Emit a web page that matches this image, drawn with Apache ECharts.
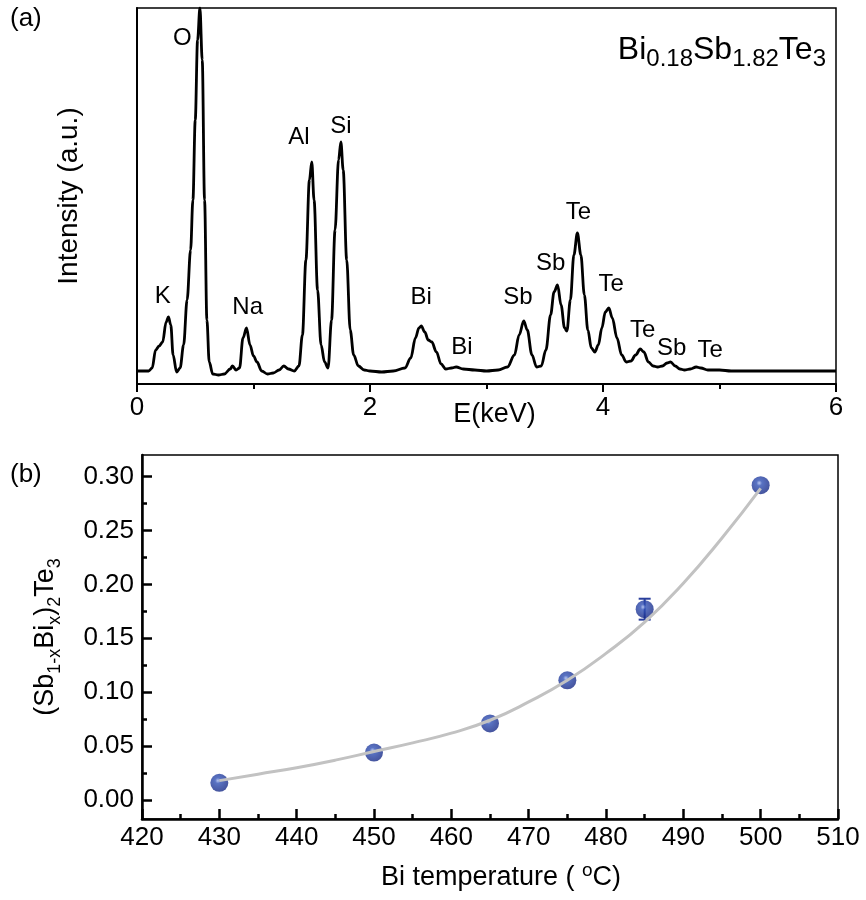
<!DOCTYPE html>
<html><head><meta charset="utf-8">
<script src="https://cdn.jsdelivr.net/npm/echarts@6/dist/echarts.min.js"></script>
<style>html,body{margin:0;padding:0;background:#fff}#c{width:866px;height:900px}</style>
</head><body><div id="c"></div>
<script>
// ---------- Panel (a): EDS spectrum ----------
const energyKeV = [0.00,0.05,0.10,0.13,0.16,0.19,0.22,0.25,0.27,0.29,0.31,0.34,0.37,0.40,0.43,0.46,0.48,0.50,0.52,0.54,0.56,0.58,0.60,0.62,0.65,0.70,0.75,0.80,0.82,0.85,0.88,0.91,0.94,0.97,1.00,1.03,1.07,1.12,1.17,1.22,1.26,1.30,1.35,1.39,1.42,1.45,1.48,1.50,1.52,1.55,1.58,1.61,1.64,1.67,1.70,1.73,1.75,1.77,1.80,1.83,1.86,1.90,1.95,2.00,2.10,2.20,2.30,2.35,2.39,2.42,2.44,2.47,2.50,2.53,2.57,2.61,2.65,2.70,2.74,2.80,2.90,3.00,3.10,3.18,3.24,3.28,3.32,3.35,3.39,3.43,3.47,3.51,3.55,3.58,3.61,3.64,3.67,3.69,3.72,3.75,3.78,3.81,3.84,3.87,3.90,3.93,3.96,3.99,4.02,4.05,4.08,4.12,4.16,4.20,4.24,4.28,4.32,4.35,4.39,4.43,4.47,4.51,4.55,4.58,4.62,4.66,4.70,4.75,4.80,4.84,4.90,5.00,5.10,5.50,6.00];
const intensityAU = [13,13,13,16,34,38,42,62,67,59,29,12,16,39,84,134,184,264,344,376,324,184,64,22,10,9,10,15,18,14,16,46,56,39,28,22,13,10,11,14,18,15,13,18,49,124,204,222,184,94,39,22,16,64,154,224,242,214,124,54,29,18,14,13,12,13,16,26,46,56,58,52,44,42,32,20,15,16,17,15,14,13,14,17,29,49,63,54,29,17,18,34,69,92,99,79,56,53,84,129,151,129,89,54,36,32,39,56,72,76,66,46,29,22,23,29,35,32,22,18,17,18,21,22,18,15,14,15,17,16,14,14,13,13,13];
const peakNames = ['O','K','Na','Al','Si','Bi','Bi','Sb','Sb','Te','Te','Te','Sb','Te'];
const peakLabelE = [0.39,0.22,0.95,1.39,1.75,2.44,2.79,3.27,3.55,3.79,4.07,4.34,4.59,4.92];
const peakLabelI = [346,88,77,247,258,87,37,87,121,172,100,54,36,34];
const xTicksA = [0,2,4,6];

// ---------- Panel (b): composition vs Bi temperature ----------
const biTemp = [430,450,465,475,485,500];
const xBi = [0.016,0.044,0.071,0.111,0.177,0.292];
const xBiErr = [0,0,0,0,0.0097,0];
const fitTemp = [430,435,440,445,450,455,460,465,470,475,480,485,490,495,500];
const fitX = [0.018,0.024,0.030,0.037,0.045,0.053,0.062,0.074,0.091,0.111,0.136,0.165,0.201,0.243,0.289];
const yTicksB = [0,0.05,0.10,0.15,0.20,0.25,0.30];
const yMinorTicksB = [0.025,0.075,0.125,0.175,0.225,0.275];

const FONT = 'Liberation Sans, Arial, sans-serif';
const chart = echarts.init(document.getElementById('c'), null, {renderer:'canvas'});

const spectrum = energyKeV.map((e,i)=>[e,intensityAU[i]]);
const peakPts = peakNames.map((n,i)=>[peakLabelE[i],peakLabelI[i],i]);
const pts = biTemp.map((t,i)=>[t,xBi[i]]);
const errs = biTemp.map((t,i)=>[t,xBi[i]-xBiErr[i],xBi[i]+xBiErr[i]]).filter((d,i)=>xBiErr[i]>0);
const fit = fitTemp.map((t,i)=>[t,fitX[i]]);

const sub = {fontSize:18, fontFamily:FONT, color:'#000', lineHeight:16, verticalAlign:'bottom'};

chart.setOption({
  animation:false,
  backgroundColor:'#fff',
  grid:[
    {left:137, top:8, width:699, height:376, show:true, borderColor:'#000', borderWidth:1.5, backgroundColor:'transparent'},
    {left:142, top:455, width:696, height:364, show:true, borderColor:'#000', borderWidth:1.5, backgroundColor:'transparent'}
  ],
  xAxis:[
    {gridIndex:0, type:'value', min:0, max:6, interval:2,
     axisLine:{onZero:false, lineStyle:{color:'#000', width:2}},
     axisTick:{show:true, inside:false, length:8, lineStyle:{color:'#000', width:2}},
     minorTick:{show:true, splitNumber:2, length:5, lineStyle:{color:'#000', width:2}},
     splitLine:{show:false},
     axisLabel:{customValues:xTicksA, fontSize:26, fontFamily:FONT, color:'#000', margin:11},
     name:'E(keV)', nameLocation:'middle', nameGap:17, nameMoveOverlap:false,
     nameTextStyle:{fontSize:27, fontFamily:FONT, color:'#000', verticalAlign:'top', padding:[0,0,0,16]}},
    {gridIndex:1, type:'value', min:420, max:510, interval:10,
     axisLine:{onZero:false, lineStyle:{color:'#000', width:2.5}},
     axisTick:{show:true, inside:true, length:10, lineStyle:{color:'#000', width:2.5}},
     minorTick:{show:true, splitNumber:2, length:5, lineStyle:{color:'#000', width:2.5}},
     splitLine:{show:false},
     axisLabel:{fontSize:26, fontFamily:FONT, color:'#000', margin:6},
     name:'Bi temperature ( {sup|o}C)', nameLocation:'middle', nameGap:42, nameMoveOverlap:false,
     nameTextStyle:{fontSize:27, fontFamily:FONT, color:'#000', verticalAlign:'top', lineHeight:34, padding:[0,0,0,22],
       rich:{sup:{fontSize:19, fontFamily:FONT, color:'#000', lineHeight:20, verticalAlign:'top'}}}}
  ],
  yAxis:[
    {gridIndex:0, type:'value', min:0, max:376,
     axisLine:{show:true, onZero:false, lineStyle:{color:'#000', width:2}},
     axisTick:{show:false}, axisLabel:{show:false}, splitLine:{show:false},
     name:'Intensity (a.u.)', nameLocation:'middle', nameGap:54, nameRotate:90,
     nameTextStyle:{fontSize:28, fontFamily:FONT, color:'#000'}},
    {gridIndex:1, type:'value', position:'left', min:-0.0176, max:0.32,
     axisLine:{show:true, onZero:false, lineStyle:{color:'#000', width:2.5}},
     axisTick:{show:true, inside:true, length:10, customValues:yTicksB, lineStyle:{color:'#000', width:2.5}},
     axisLabel:{customValues:yTicksB, fontSize:26, fontFamily:FONT, color:'#000', margin:8,
       formatter:v=>v.toFixed(2)},
     splitLine:{show:false},
     name:'(Sb{s|1-x}Bi{s|x}){s|2}Te{s|3}', nameLocation:'middle', nameGap:78, nameRotate:90,
     nameTextStyle:{fontSize:27, fontFamily:FONT, color:'#000', lineHeight:36, rich:{s:sub}}},
    {gridIndex:1, type:'value', position:'left', offset:0, min:-0.0176, max:0.32,
     axisLine:{show:false, onZero:false},
     axisTick:{show:true, inside:true, length:5, customValues:yMinorTicksB, lineStyle:{color:'#000', width:2.5}},
     axisLabel:{show:false}, splitLine:{show:false}}
  ],
  series:[
    {type:'line', xAxisIndex:0, yAxisIndex:0, data:spectrum, showSymbol:false, symbol:'none',
     smooth:0.35, smoothMonotone:'x', lineStyle:{color:'#000', width:2.8}, clip:true, z:3},
    {type:'custom', xAxisIndex:0, yAxisIndex:0, data:peakPts, silent:true, z:4,
     renderItem:(params, api)=>{
       const p = api.coord([api.value(0), api.value(1)]);
       return {type:'text', x:p[0], y:p[1], style:{text:peakNames[api.value(2)], fill:'#000',
         font:'24px '+FONT, align:'center', verticalAlign:'middle'}};
     }},
    {type:'custom', xAxisIndex:1, yAxisIndex:1, data:errs, z:5,
     renderItem:(params, api)=>{
       const x = api.value(0), lo = api.value(1), hi = api.value(2);
       const pLo = api.coord([x,lo]), pHi = api.coord([x,hi]);
       const w = 6;
       const st = {stroke:'#2a3f9c', lineWidth:2};
       return {type:'group', children:[
         {type:'line', shape:{x1:pLo[0],y1:pLo[1],x2:pHi[0],y2:pHi[1]}, style:st},
         {type:'line', shape:{x1:pLo[0]-w,y1:pLo[1],x2:pLo[0]+w,y2:pLo[1]}, style:st},
         {type:'line', shape:{x1:pHi[0]-w,y1:pHi[1],x2:pHi[0]+w,y2:pHi[1]}, style:st}
       ]};
     }},
    {type:'scatter', xAxisIndex:1, yAxisIndex:1, data:pts, symbol:'circle', symbolSize:18, z:6,
     itemStyle:{color:{type:'radial', x:0.42, y:0.38, r:0.62, colorStops:[
       {offset:0, color:'#a6b9ee'},{offset:0.25, color:'#3050b4'},{offset:1, color:'#172a86'}]}}},
    {type:'line', xAxisIndex:1, yAxisIndex:1, data:fit, showSymbol:false, symbol:'none', smooth:true,
     lineStyle:{color:'#c2c2c2', width:3}, z:7}
  ],
  graphic:[
    {type:'text', left:10, top:6, style:{text:'(a)', font:'26px '+FONT, fill:'#000'}},
    {type:'text', left:10, top:462, style:{text:'(b)', font:'26px '+FONT, fill:'#000'}},
    {type:'text', right:40, top:29, style:{
      text:'Bi{s|0.18}Sb{s|1.82}Te{s|3}', font:'32px '+FONT, fill:'#000', lineHeight:42,
      rich:{s:{fontSize:24, fontFamily:FONT, fill:'#000', lineHeight:20, verticalAlign:'bottom'}}}}
  ]
});
</script></body></html>
